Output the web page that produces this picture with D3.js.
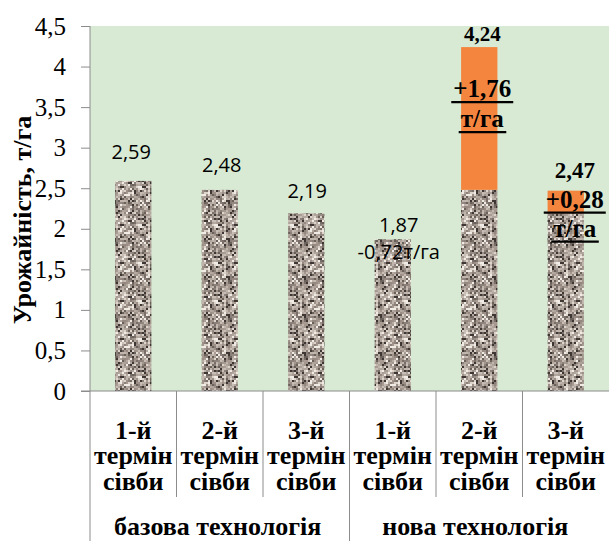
<!DOCTYPE html>
<html><head><meta charset="utf-8">
<script src="https://cdn.jsdelivr.net/npm/d3@7"></script>
</head><body style="margin:0">
<svg id="c" width="609" height="541" style="display:block"></svg>
<script>
const categories = ["1-й|термін|сівби","2-й|термін|сівби","3-й|термін|сівби","1-й|термін|сівби","2-й|термін|сівби","3-й|термін|сівби"];
const groups = ["базова технологія","нова технологія"];
const baseValues = [2.59, 2.48, 2.19, 1.87, 2.48, 2.19];
const increments = [0, 0, 0, 0, 1.76, 0.28];
const valueLabels = ["2,59","2,48","2,19","1,87","4,24","2,47"];
const changeLabels = ["","","","-0,72т/га","+1,76","+0,28"];
const unitLabel = "т/га";
const yTicks = [0,0.5,1,1.5,2,2.5,3,3.5,4,4.5];
const yAxisTitle = "Урожайність, т/га";

const SERIF = '"Liberation Serif"';
const SANS = '"Open Sans"';
const svg = d3.select("#c");
const L = 90, R = 609, T = 26, B = 391;
const x = d3.scaleBand().domain(d3.range(categories.length)).range([L, R]).padding(0);
const y = d3.scaleLinear().domain([0, 4.5]).range([B, T]);
const grey = "#8c8c8c";

// granite texture as a deterministic pixel pattern
const defs = svg.append("defs");
const pat = defs.append("pattern").attr("id","granite").attr("patternUnits","userSpaceOnUse")
  .attr("width",38).attr("height",38);
const palette = ["#3e3632","#6b615b","#8c817a","#a3978e","#b5aaa1","#c8beb5","#ddd5cc","#f0ebe4","#9b8f87","#7a6f68","#b0a59c","#c0b6ad","#a89c94","#948880"];
for (let gy = 0; gy < 19; gy++) {
  for (let gx = 0; gx < 19; gx++) {
    const h = Math.abs(Math.sin(gx * 12.9898 + gy * 78.233) * 43758.5453) % 1;
    pat.append("rect").attr("x",gx*2).attr("y",gy*2).attr("width",2).attr("height",2)
      .attr("fill",palette[Math.floor(h*palette.length)]);
  }
}

// plot background
svg.append("rect").attr("x",L).attr("y",T).attr("width",R-L).attr("height",B-T).attr("fill","#d8ead3");

// bars
const bw = x.bandwidth()*0.42;
const bx = i => x(i) + (x.bandwidth()-bw)/2;
svg.append("g").selectAll("rect").data(baseValues).join("rect")
  .attr("x",(d,i)=>bx(i)).attr("width",bw)
  .attr("y",d=>y(d)).attr("height",d=>y(0)-y(d))
  .attr("fill","url(#granite)");
const incIdx = d3.range(increments.length).filter(i=>increments[i]>0);
svg.append("g").selectAll("rect").data(incIdx).join("rect")
  .attr("x",i=>bx(i)).attr("width",bw)
  .attr("y",i=>y(baseValues[i]+increments[i]))
  .attr("height",i=>y(0)-y(increments[i]))
  .attr("fill","#f4853f");

// y axis
const yAxis = d3.axisLeft(y).tickValues(yTicks).tickSize(9).tickPadding(15)
  .tickFormat(d=>String(d).replace(".",","));
const ya = svg.append("g").attr("transform",`translate(${L},0)`).call(yAxis);
ya.select(".domain").remove();
ya.selectAll(".tick line").attr("stroke",grey);
ya.selectAll(".tick text").style("font-family",SERIF).attr("font-size",25).attr("fill","#000");
svg.append("line").attr("x1",L).attr("x2",L).attr("y1",T).attr("y2",541).attr("stroke",grey);
svg.append("line").attr("x1",L-9).attr("x2",R).attr("y1",B).attr("y2",B).attr("stroke",grey);

// y title
svg.append("text").attr("transform",`translate(31,220) rotate(-90)`).attr("text-anchor","middle")
  .style("font-family",SERIF).attr("font-weight","bold").attr("font-size",26)
  .text(yAxisTitle);

// category separators
d3.range(1, categories.length).forEach(i=>{
  const long = i % 3 === 0;
  svg.append("line").attr("x1",x(i)).attr("x2",x(i)).attr("y1",B).attr("y2",long?541:497).attr("stroke",grey);
});

// category labels
const lineBase = [439, 464, 490];
categories.forEach((c,i)=>{
  c.split("|").forEach((s,k)=>{
    svg.append("text").attr("x",x(i)+x.bandwidth()/2).attr("y",lineBase[k]).attr("text-anchor","middle")
      .style("font-family",SERIF).attr("font-weight","bold").attr("font-size",26).text(s);
  });
});
groups.forEach((g,j)=>{
  const cx = (x(j*3) + x(j*3+2) + x.bandwidth())/2;
  svg.append("text").attr("x",cx - (j?4:2)).attr("y",535).attr("text-anchor","middle")
    .style("font-family",SERIF).attr("font-weight","bold").attr("font-size",26).text(g);
});

// value labels
const plainDx = [-2, 2, 1, 6];
const plainDy = [-22, -18, -15, -7];
[0,1,2,3].forEach(i=>{
  const top = y(baseValues[i]);
  svg.append("text").attr("x",x(i)+x.bandwidth()/2+plainDx[i]).attr("y",top+plainDy[i]).attr("text-anchor","middle")
    .style("font-family",SANS).attr("font-size",20).text(valueLabels[i]);
  if (changeLabels[i]) {
    svg.append("text").attr("x",x(i)+x.bandwidth()/2+plainDx[i]).attr("y",top+20).attr("text-anchor","middle")
      .style("font-family",SANS).attr("font-size",20).text(changeLabels[i]);
  }
});
// bold stacked labels for bars with increments
const boldDx = {4: 3, 5: 9};
const boldOffsets = {4: [-6, 50, 80], 5: [-13, 17, 46]};
const totalSize = {4: 21, 5: 23};
incIdx.forEach(i=>{
  const top = y(baseValues[i]+increments[i]);
  const cx = x(i)+x.bandwidth()/2+boldDx[i];
  const o = boldOffsets[i];
  svg.append("text").attr("x",cx).attr("y",top+o[0]).attr("text-anchor","middle")
    .style("font-family",SERIF).attr("font-weight","bold").attr("font-size",totalSize[i]).text(valueLabels[i]);
  [changeLabels[i], unitLabel].forEach((s,k)=>{
    const t = svg.append("text").attr("x",cx).attr("y",top+o[k+1]).attr("text-anchor","middle")
      .style("font-family",SERIF).attr("font-weight","bold").attr("font-size",25).text(s);
    const bb = t.node().getBBox();
    svg.append("line").attr("x1",bb.x-2).attr("x2",bb.x+bb.width+2)
      .attr("y1",top+o[k+1]+5).attr("y2",top+o[k+1]+5).attr("stroke","#000").attr("stroke-width",2.2);
  });
});
</script>
</body></html>
